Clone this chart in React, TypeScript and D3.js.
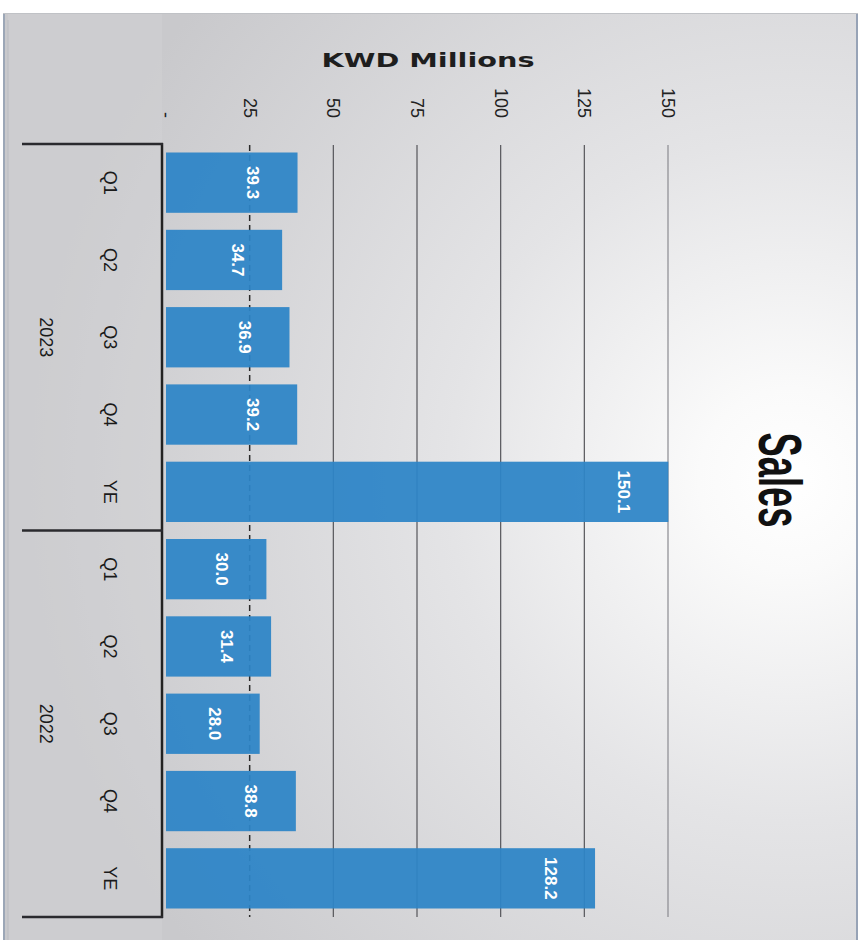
import React from "react";
import * as d3 from "d3";

const years = ["2023", "2022"];
const periods = ["Q1", "Q2", "Q3", "Q4", "YE"];
const sales2023 = [39.3, 34.7, 36.9, 39.2, 150.1];
const sales2022 = [30.0, 31.4, 28.0, 38.8, 128.2];
const valueTicks = [0, 25, 50, 75, 100, 125, 150];
const axisTitle = "KWD Millions";
const chartTitle = "Sales";

const seriesByYear: Record<string, number[]> = { "2023": sales2023, "2022": sales2022 };

type Row = { key: string; year: string; period: string; value: number };
const rows: Row[] = years.flatMap((yr) =>
  periods.map((p, i) => ({ key: `${yr}-${p}`, year: yr, period: p, value: seriesByYear[yr][i] }))
);

export default function App() {
  const W = 864;
  const H = 940;
  const x = d3.scaleLinear().domain([0, 150]).range([166, 668]);
  const y = d3
    .scaleBand<string>()
    .domain(rows.map((r) => r.key))
    .range([144, 917])
    .paddingInner(0.22)
    .paddingOuter(0.11);
  const bw = y.bandwidth();
  const step = y.step();
  const top = 144;
  const bottom = 917;
  const groupBounds = years.map((yr) => {
    const keys = rows.filter((r) => r.year === yr).map((r) => r.key);
    const y0 = (y(keys[0]) as number) - (step - bw) / 2;
    const y1 = (y(keys[keys.length - 1]) as number) + bw + (step - bw) / 2;
    return { yr, y0, y1 };
  });
  const fmtTick = (t: number) => (t === 0 ? "-" : d3.format("d")(t));
  const fmtVal = d3.format(".1f");
  const sans = "'Liberation Sans', Arial, sans-serif";

  return (
    <svg
      width={W}
      height={H}
      viewBox={`0 0 ${W} ${H}`}
      style={{ position: "absolute", left: 0, top: 0, display: "block" }}
    >
      <defs>
        <radialGradient id="bg" cx="790" cy="480" r="760" gradientUnits="userSpaceOnUse">
          <stop offset="0" stopColor="#ffffff" />
          <stop offset="0.12" stopColor="#fafafa" />
          <stop offset="0.45" stopColor="#e4e4e6" />
          <stop offset="1" stopColor="#c9c9cc" />
        </radialGradient>
      </defs>
      <rect x={0} y={0} width={W} height={H} fill="#ffffff" />
      <rect x={3} y={13} width={855} height={H - 13} fill="url(#bg)" />
      <line x1={4} y1={13} x2={4} y2={H} stroke="#8d9bb0" strokeWidth={1.5} />
      <line x1={857} y1={13} x2={857} y2={H} stroke="#7f8fa8" strokeWidth={1.5} />
      <line x1={3} y1={13.5} x2={858} y2={13.5} stroke="#c0c2c6" strokeWidth={1} />

      {/* left label panel */}
      <rect x={8} y={14} width={154} height={H - 14} fill="#d3d3d5" opacity={0.45} />
      <line x1={8} y1={20} x2={8} y2={H} stroke="#b9bcc2" strokeWidth={1} />

      {/* gridlines */}
      {valueTicks
        .filter((t) => t > 0)
        .map((t) => (
          <line
            key={`g${t}`}
            x1={x(t)}
            x2={x(t)}
            y1={top + 1}
            y2={bottom}
            stroke={t === 25 ? "#2a2a2a" : t === 150 ? "#8a8a90" : "#55555a"}
            strokeWidth={t === 25 ? 1.5 : 1.2}
            strokeDasharray={t === 25 ? "6,4" : undefined}
          />
        ))}

      {/* bars */}
      {rows.map((r) => (
        <rect
          key={r.key}
          x={x(0)}
          y={y(r.key)}
          width={x(r.value) - x(0)}
          height={bw}
          fill="#2e85c7"
          fillOpacity={0.94}
        />
      ))}

      {/* value labels */}
      {rows.map((r) => {
        const cx = x(r.value) - 45;
        const cy = (y(r.key) as number) + bw / 2;
        return (
          <text
            key={`v${r.key}`}
            transform={`translate(${cx},${cy}) rotate(90)`}
            textAnchor="middle"
            dominantBaseline="central"
            fill="#ffffff"
            fontFamily={sans}
            fontWeight="bold"
            fontSize={17}
          >
            {fmtVal(r.value)}
          </text>
        );
      })}

      {/* value tick labels */}
      {valueTicks.map((t) => (
        <text
          key={`t${t}`}
          transform={`translate(${x(t)},118) rotate(90)`}
          textAnchor="end"
          dominantBaseline="central"
          fill="#222"
          fontFamily={sans}
          fontSize={18}
        >
          {fmtTick(t)}
        </text>
      ))}

      {/* category axis */}
      <line x1={162} x2={162} y1={top - 1} y2={bottom + 1} stroke="#222" strokeWidth={2.5} />
      {[top, groupBounds[0].y1, bottom].map((yy, i) => (
        <line key={`d${i}`} x1={22} x2={163} y1={yy} y2={yy} stroke="#2a2a2e" strokeWidth={2.5} />
      ))}
      {rows.map((r) => {
        const cy = (y(r.key) as number) + bw / 2;
        return (
          <text
            key={`c${r.key}`}
            transform={`translate(110,${cy}) rotate(90)`}
            textAnchor="middle"
            dominantBaseline="central"
            fill="#1a1a1a"
            fontFamily={sans}
            fontSize={18}
          >
            {r.period}
          </text>
        );
      })}
      {groupBounds.map((g) => (
        <text
          key={`y${g.yr}`}
          transform={`translate(46,${(g.y0 + g.y1) / 2}) rotate(90)`}
          textAnchor="middle"
          dominantBaseline="central"
          fill="#1a1a1a"
          fontFamily={sans}
          fontSize={18}
        >
          {g.yr}
        </text>
      ))}

      {/* axis title */}
      <text
        x={428}
        y={67}
        textAnchor="middle"
        fill="#1e1e1e"
        fontFamily="'DejaVu Sans', Verdana, sans-serif"
        fontWeight="bold"
        fontSize={19}
        textLength={213}
        lengthAdjust="spacingAndGlyphs"
      >
        {axisTitle}
      </text>

      {/* chart title */}
      <text
        transform={`translate(780,480) rotate(90)`}
        textAnchor="middle"
        dominantBaseline="central"
        fill="#111"
        fontFamily="'Liberation Sans Narrow', 'Liberation Sans', Arial, sans-serif"
        fontWeight="bold"
        fontSize={62}
        textLength={95}
        lengthAdjust="spacingAndGlyphs"
      >
        {chartTitle}
      </text>
    </svg>
  );
}
